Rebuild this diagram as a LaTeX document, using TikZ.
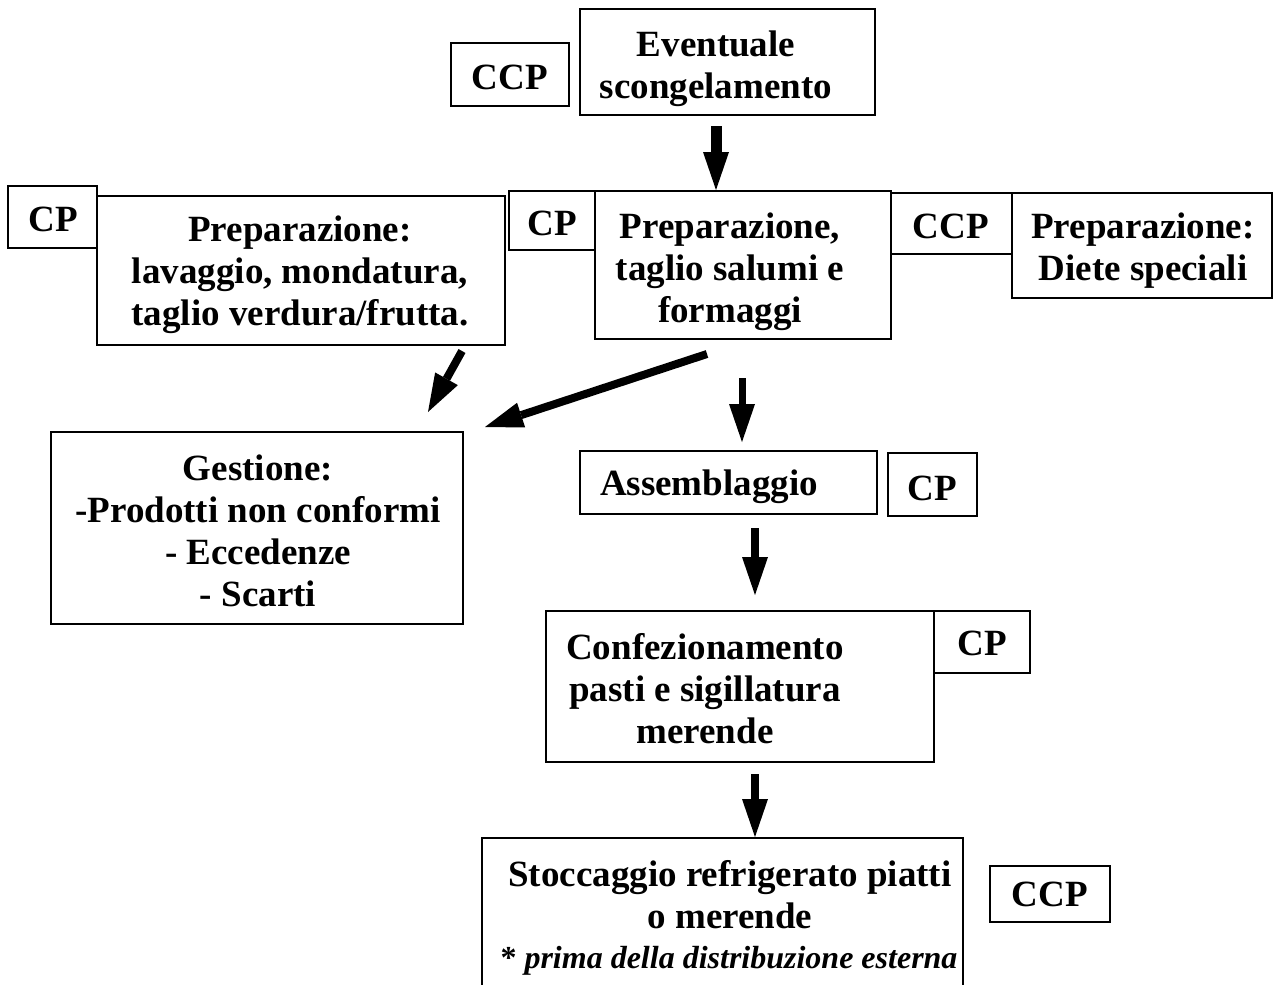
\documentclass[tikz,border=0pt]{standalone}
\usepackage{fontspec}
\setmainfont{Liberation Serif}
\usetikzlibrary{arrows.meta,fit}
\begin{document}
\begin{tikzpicture}[x=1pt,y=-1pt,
  bx/.style={draw, line width=1.8pt, inner sep=0pt, outer sep=0pt},
  tx/.style={align=center, font=\fontsize{37}{42}\selectfont\bfseries, inner sep=0pt},
  ar/.style={line width=8pt, -{Triangle[width=26pt,length=38pt,line width=0pt]}}]
\useasboundingbox (0,0) rectangle (1275,985);
% boxes
\node[bx, fit={(580,9)(875,115)}] (ev) {};
\node[bx, fit={(451,43)(569,106)}] (ccpa) {};
\node[bx, fit={(8,186)(97,248)}] (cpa) {};
\node[bx, fit={(97,196)(505,345)}] (lp) {};
\node[bx, fit={(509,191)(595,250)}] (cpb) {};
\node[bx, fit={(595,191)(891,339)}] (mp) {};
\node[bx, fit={(891,193)(1012,254)}] (ccpb) {};
\node[bx, fit={(1012,193)(1272,298)}] (dp) {};
\node[bx, fit={(51,432)(463,624)}] (ge) {};
\node[bx, fit={(580,451)(877,514)}] (as) {};
\node[bx, fit={(888,453)(977,516)}] (cpc) {};
\node[bx, fit={(546,611)(934,762)}] (co) {};
\node[bx, fit={(934,611)(1030,673)}] (cpd) {};
\node[bx, fit={(482,838)(963,1010)}] (st) {};
\node[bx, fit={(990,866)(1110,922)}] (ccpc) {};
% texts
\node[tx] (evt) at (716,69) {Eventuale\\scongelamento};
\node[tx] (ccpat) at (510,77) {CCP};
\node[tx] (cpat) at (53,219) {CP};
\node[tx] (lpt) at (300,275) {Preparazione:\\lavaggio, mondatura,\\taglio verdura/frutta.};
\node[tx] (cpbt) at (552,223) {CP};
\node[tx] (mpt) at (730,272) {Preparazione,\\taglio salumi e\\formaggi};
\node[tx] (ccpbt) at (951,226) {CCP};
\node[tx] (dpt) at (1143,251) {Preparazione:\\Diete speciali};
\node[tx] (get) at (258,531) {Gestione:\\-Prodotti non conformi\\- Eccedenze\\- Scarti};
\node[tx] (ast) at (709,487) {Assemblaggio};
\node[tx] (cpct) at (932,488) {CP};
\node[tx] (cot) at (705,689) {Confezionamento\\pasti e sigillatura\\merende};
\node[tx] (cpdt) at (982,643) {CP};
\node[tx] (stt) at (730,895) {Stoccaggio refrigerato piatti\\o merende};
\node[tx, font=\fontsize{32}{38}\selectfont\bfseries] (stn) at (729,961) {* \itshape prima della distribuzione esterna};
\node[tx] (ccpct) at (1050,894) {CCP};
% arrow end points
\coordinate (a1s) at (716,126); \coordinate (a1e) at (716,190);
\coordinate (a2s) at (462,351); \coordinate (a2e) at (428,412);
\coordinate (a3s) at (707,354); \coordinate (a3e) at (485,427);
\coordinate (a4s) at (742,378); \coordinate (a4e) at (742,442);
\coordinate (a5s) at (755,528); \coordinate (a5e) at (755,595);
\coordinate (a6s) at (755,774); \coordinate (a6e) at (755,837);
\draw[ar, line width=11pt] (a1s) -- (a1e);
\draw[ar] (a2s) -- (a2e);
\draw[ar] (a3s) -- (a3e);
\draw[ar, line width=7pt] (a4s) -- (a4e);
\draw[ar] (a5s) -- (a5e);
\draw[ar] (a6s) -- (a6e);
\end{tikzpicture}
\end{document}
